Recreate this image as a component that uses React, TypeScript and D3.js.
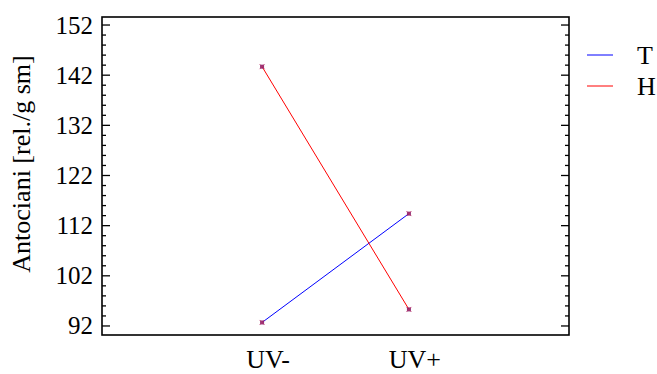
import React from "react";
import * as d3 from "d3";

const categories = ["UV-", "UV+"];
const seriesNames = ["T", "H"];
const seriesT = [92.7, 114.4];
const seriesH = [143.7, 95.3];
const yTicks = [92, 102, 112, 122, 132, 142, 152];
const colors = ["#0000ff", "#ff0000"];

const W = 657;
const H = 374;
const frame = { left: 102, right: 569, top: 17, bottom: 335 };
const FONT = "Liberation Serif";

export default function App() {
  const x = d3
    .scalePoint<string>()
    .domain(categories)
    .range([frame.left, frame.right])
    .padding(1.09);
  const y = d3.scaleLinear().domain([90.2, 153.6]).range([frame.bottom, frame.top]);

  const minor = d3.range(92, 153.6, 2).filter((v) => !yTicks.includes(v));
  const series = [seriesT, seriesH];
  const line = d3
    .line<number>()
    .x((_, i) => x(categories[i]) as number)
    .y((d) => y(d));

  return (
    <svg width={W} height={H} style={{ position: "absolute", left: 0, top: 0, background: "#fff" }}>
      <g fill="#000">
        {/* tick marks on both vertical sides, pointing inward */}
        {yTicks.map((t) => (
          <g key={"M" + t}>
            <line x1={frame.left} x2={frame.left + 8} y1={y(t)} y2={y(t)} stroke="#000" strokeWidth={1.3} />
            <line x1={frame.right} x2={frame.right - 8} y1={y(t)} y2={y(t)} stroke="#000" strokeWidth={1.3} />
            <text x={93} y={y(t)} dy="0.34em" textAnchor="end" fontSize={25} fontFamily={FONT}>
              {t}
            </text>
          </g>
        ))}
        {minor.map((t) => (
          <g key={"m" + t}>
            <line x1={frame.left} x2={frame.left + 4} y1={y(t)} y2={y(t)} stroke="#000" strokeWidth={1.3} />
            <line x1={frame.right} x2={frame.right - 4} y1={y(t)} y2={y(t)} stroke="#000" strokeWidth={1.3} />
          </g>
        ))}
        <rect
          x={frame.left}
          y={frame.top}
          width={frame.right - frame.left}
          height={frame.bottom - frame.top}
          fill="none"
          stroke="#000"
          strokeWidth={1.6}
        />
        {categories.map((c) => (
          <text key={c} x={(x(c) as number) + 6} y={368} textAnchor="middle" fontSize={26} fontFamily={FONT}>
            {c}
          </text>
        ))}
        <text
          transform={`translate(30, 164) rotate(-90)`}
          textAnchor="middle"
          fontSize={26}
          fontFamily={FONT}
        >
          Antociani [rel./g sm]
        </text>

        {series.map((s, k) => (
          <path key={"l" + k} d={line(s) ?? ""} fill="none" stroke={colors[k]} strokeWidth={1} />
        ))}
        {series.map((s, k) =>
          s.map((v, i) => {
            const cx = x(categories[i]) as number;
            const cy = y(v);
            return (
              <g key={"p" + k + i}>
                <rect x={cx - 2} y={cy - 2} width={4} height={4} fill="#7a1460" opacity={0.85} />
                <path
                  d={`M${cx - 2.5},${cy - 2.5}L${cx + 2.5},${cy + 2.5}M${cx - 2.5},${cy + 2.5}L${cx + 2.5},${cy - 2.5}`}
                  stroke="#c0306a"
                  strokeWidth={0.8}
                />
              </g>
            );
          })
        )}

        {seriesNames.map((n, k) => (
          <g key={n}>
            <line x1={587} x2={613} y1={55 + k * 31} y2={55 + k * 31} stroke={colors[k]} strokeWidth={1} />
            <text x={637} y={64 + k * 31} fontSize={26} fontFamily={FONT}>
              {n}
            </text>
          </g>
        ))}
      </g>
    </svg>
  );
}
